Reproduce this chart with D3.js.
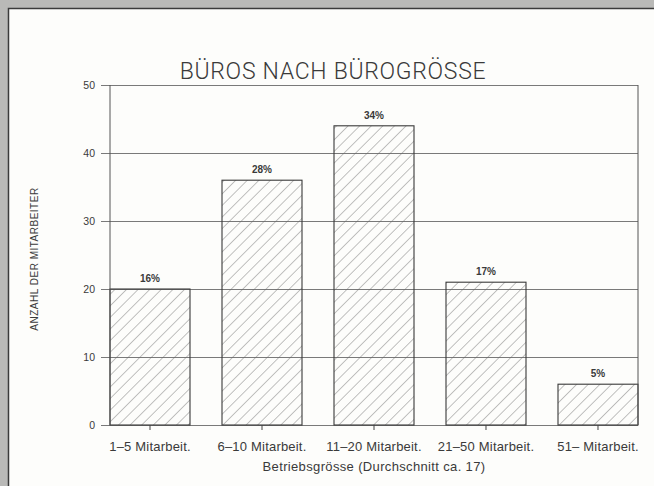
<html>
<head>
<script src="https://d3js.org/d3.v7.min.js"></script>
<style>
  body { margin: 0; background: #b9b9b7; }
  text { font-family: "Liberation Sans", Arial, sans-serif; fill: #3a3a3a; }
  .grid line { stroke: #6a6a6a; stroke-width: 0.9; }
  .grid .domain { stroke: none; }
</style>
</head>
<body>
<svg id="chart" width="654" height="486"></svg>
<script>
const categories = ['1\u20135 Mitarbeit.', '6\u201310 Mitarbeit.', '11\u201320 Mitarbeit.', '21\u201350 Mitarbeit.', '51\u2013 Mitarbeit.'];
const values = [20, 36, 44, 21, 6];
const shares = ['16%', '28%', '34%', '17%', '5%'];
const yTicks = [0, 10, 20, 30, 40, 50];

const svg = d3.select('svg#chart');
const margins = {top: 85, left: 110, right: 16, bottom: 61};
const chartWidth = 654 - margins.left - margins.right;
const chartHeight = 486 - margins.top - margins.bottom;

// paper panel
svg.append('rect')
  .attr('x', 8.5).attr('y', 8.5)
  .attr('width', 660).attr('height', 490)
  .attr('fill', '#fdfdfb')
  .attr('stroke', '#3a3a3a')
  .attr('stroke-width', 1.5);

const defs = svg.append('defs');
const pat = defs.append('pattern')
  .attr('id', 'hatch')
  .attr('patternUnits', 'userSpaceOnUse')
  .attr('width', 8.2).attr('height', 8.2)
  .attr('patternTransform', 'rotate(45)');
pat.append('line')
  .attr('x1', 0).attr('y1', 0).attr('x2', 0).attr('y2', 8.2)
  .attr('stroke', '#666').attr('stroke-width', 0.8);

svg.append('text')
  .attr('x', 333).attr('y', 79)
  .attr('text-anchor', 'middle')
  .attr('font-size', 23)
  .style('font-family', 'Roboto, "Liberation Sans", sans-serif')
  .style('font-weight', 300)
  .style('letter-spacing', '0.7px')
  .attr('fill', '#444')
  .text('BÜROS NACH BÜROGRÖSSE');

const chart = svg.append('g')
  .attr('transform', `translate(${margins.left},${margins.top})`);

const x = d3.scaleBand().domain(categories).range([0, chartWidth])
  .paddingInner(0.2857).paddingOuter(0);
const y = d3.scaleLinear().domain([0, 50]).range([chartHeight, 0]);

// gridlines with ticks sticking out on the left
const yGrid = d3.axisLeft(y).tickValues(yTicks).tickSize(-chartWidth - 9).tickFormat('');
chart.append('g')
  .attr('class', 'grid')
  .attr('transform', 'translate(-9,0)')
  .call(yGrid);

chart.selectAll('.bar')
  .data(values)
  .join('rect')
  .attr('class', 'bar')
  .attr('x', (d, i) => x(categories[i]))
  .attr('y', d => y(d))
  .attr('width', x.bandwidth())
  .attr('height', d => chartHeight - y(d))
  .attr('fill', 'url(#hatch)')
  .attr('stroke', '#3a3a3a')
  .attr('stroke-width', 1.1);

// frame: left and right edges of plot
chart.append('line').attr('x1', 0).attr('x2', 0).attr('y1', 0).attr('y2', chartHeight)
  .attr('stroke', '#555');
chart.append('line').attr('x1', chartWidth).attr('x2', chartWidth).attr('y1', 0).attr('y2', chartHeight)
  .attr('stroke', '#555');

// y tick labels
chart.selectAll('.ylab')
  .data(yTicks)
  .join('text')
  .attr('x', -15)
  .attr('y', d => y(d) + 4)
  .attr('text-anchor', 'end')
  .attr('font-size', 10.5)
  .text(d => d);

// x axis ticks and labels
const xAxis = d3.axisBottom(x).tickSize(5).tickSizeOuter(0).tickPadding(12);
const xg = chart.append('g')
  .attr('transform', `translate(0,${chartHeight})`)
  .call(xAxis);
xg.select('.domain').remove();
xg.selectAll('line').attr('stroke', '#444');
xg.selectAll('text')
  .attr('font-size', 13)
  .style('font-family', '"Liberation Sans", Arial, sans-serif')
  .style('letter-spacing', '0.2px')
  .attr('fill', '#3a3a3a');

// percentage labels
chart.selectAll('.pct')
  .data(values)
  .join('text')
  .attr('class', 'pct')
  .attr('x', (d, i) => x(categories[i]) + x.bandwidth() / 2)
  .attr('y', d => y(d) - 7)
  .attr('text-anchor', 'middle')
  .attr('font-size', 10)
  .style('font-weight', 'bold')
  .text((d, i) => shares[i]);

svg.append('text')
  .attr('x', 374).attr('y', 471)
  .attr('text-anchor', 'middle')
  .attr('font-size', 13)
  .style('letter-spacing', '0.35px')
  .text('Betriebsgrösse (Durchschnitt ca. 17)');

svg.append('text')
  .attr('transform', 'translate(38,259) rotate(-90)')
  .attr('text-anchor', 'middle')
  .attr('font-size', 10)
  .style('letter-spacing', '0.5px')
  .text('ANZAHL  DER  MITARBEITER');
</script>
</body>
</html>
